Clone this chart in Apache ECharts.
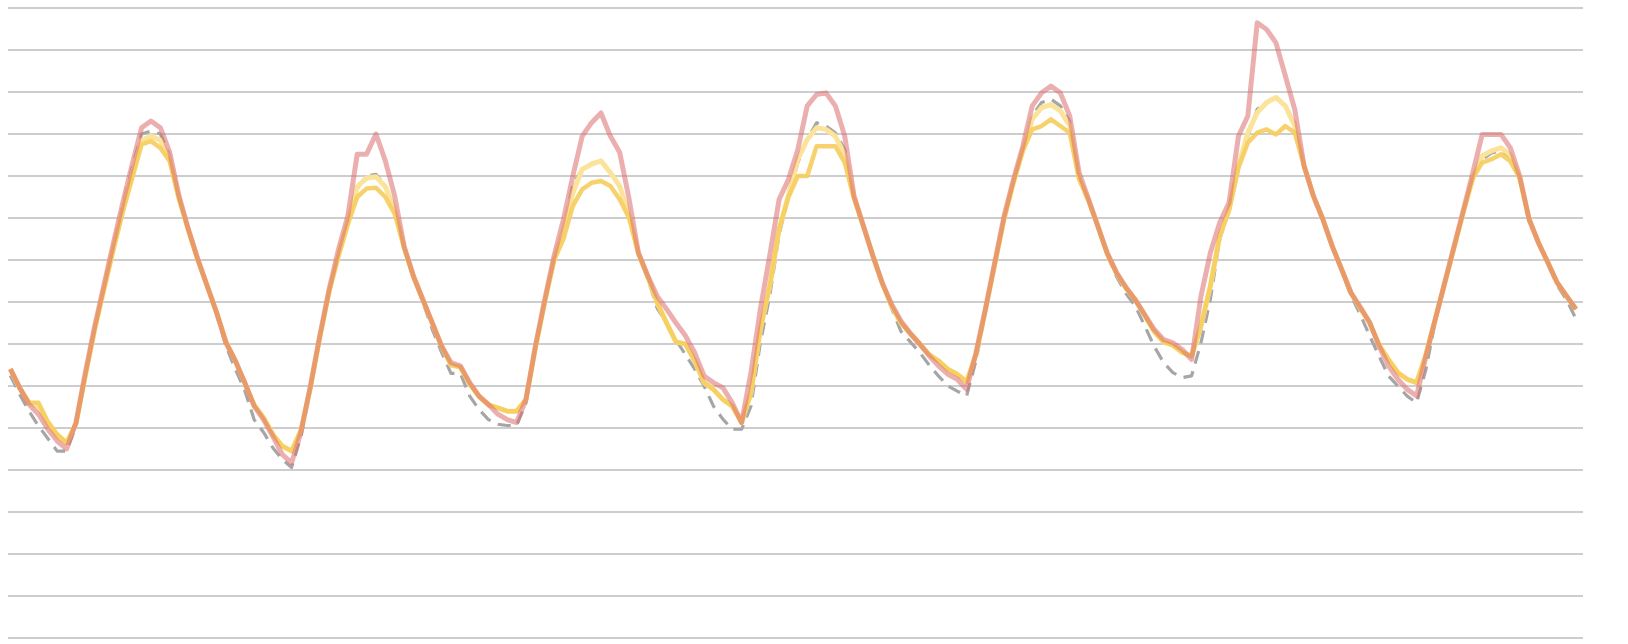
<!DOCTYPE html>
<html>
<head>
<meta charset="utf-8">
<title>Hourly series, 7 days</title>
<script src="https://cdn.jsdelivr.net/npm/echarts@6/dist/echarts.min.js"></script>
<style>
  html, body { margin: 0; padding: 0; background: #ffffff; }
  #chart { width: 1628px; height: 644px; }
</style>
</head>
<body>
<div id="chart"></div>
<script>
// hourly values, 7 days x 24 h
const grayDashed = [
  6.25, 5.8, 5.4, 5.05, 4.75, 4.45, 4.45, 5.05, 6.25, 7.4, 8.4, 9.35, 10.3, 11.2, 12.0, 12.07, 12.0, 11.48, 10.5, 9.7, 9.0, 8.35, 7.7, 6.95,
  6.4, 5.9, 5.2, 4.9, 4.53, 4.25, 4.06, 4.8, 5.9, 7.1, 8.25, 9.1, 9.9, 10.7, 11.0, 11.04, 10.76, 10.2, 9.3, 8.6, 8.0, 7.35, 6.8, 6.3,
  6.3, 5.76, 5.44, 5.2, 5.09, 5.06, 5.06, 5.6, 6.9, 8.0, 9.05, 9.75, 10.8, 11.16, 11.3, 11.36, 11.1, 10.76, 10.05, 9.15, 8.55, 7.85, 7.5, 7.1,
  6.75, 6.4, 6.0, 5.52, 5.21, 4.97, 4.97, 5.52, 7.03, 8.14, 9.6, 10.5, 11.32, 11.87, 12.27, 12.19, 12.03, 11.63, 10.5, 9.8, 9.1, 8.45, 7.85, 7.3,
  7.05, 6.8, 6.5, 6.24, 6.0, 5.88, 5.76, 6.6, 7.75, 8.9, 10.0, 10.85, 11.65, 12.43, 12.75, 12.83, 12.67, 12.3, 11.0, 10.4, 9.78, 9.12, 8.6, 8.2,
  7.9, 7.43, 6.95, 6.56, 6.32, 6.2, 6.24, 7.03, 8.06, 9.5, 10.15, 11.2, 11.95, 12.59, 12.75, 12.87, 12.67, 12.27, 11.24, 10.5, 9.95, 9.3, 8.75, 8.15,
  7.7, 7.19, 6.71, 6.24, 6.0, 5.76, 5.6, 6.4, 7.55, 8.42, 9.3, 10.15, 10.95, 11.4, 11.55, 11.6, 11.45, 10.95, 9.95, 9.4, 8.9, 8.4, 8.05, 7.6
];
const lightYellow = [
  6.4, 5.95, 5.6, 5.5, 5.1, 4.8, 4.65, 5.1, 6.25, 7.35, 8.35, 9.3, 10.2, 11.05, 11.85, 11.95, 11.85, 11.4, 10.45, 9.7, 9.0, 8.38, 7.75, 7.05,
  6.6, 6.08, 5.55, 5.25, 4.85, 4.57, 4.45, 4.95, 5.95, 7.15, 8.25, 9.1, 9.9, 10.75, 10.95, 10.98, 10.75, 10.2, 9.3, 8.6, 8.05, 7.5, 6.95, 6.5,
  6.45, 6.05, 5.75, 5.55, 5.48, 5.4, 5.4, 5.68, 6.9, 8.0, 9.0, 9.73, 10.6, 11.16, 11.28, 11.36, 11.08, 10.76, 10.05, 9.15, 8.6, 7.98, 7.5, 7.05,
  7.0, 6.6, 6.08, 5.92, 5.68, 5.52, 5.13, 5.84, 7.35, 8.38, 9.73, 10.55, 11.4, 11.87, 12.15, 12.11, 11.95, 11.5, 10.5, 9.8, 9.1, 8.45, 7.9, 7.5,
  7.25, 7.0, 6.75, 6.6, 6.4, 6.28, 6.1, 6.75, 7.8, 8.9, 9.98, 10.85, 11.62, 12.35, 12.63, 12.7, 12.55, 12.2, 10.95, 10.42, 9.8, 9.15, 8.68, 8.33,
  8.05, 7.68, 7.3, 7.05, 6.97, 6.8, 6.71, 7.43, 8.38, 9.57, 10.2, 11.24, 12.03, 12.51, 12.75, 12.87, 12.67, 12.19, 11.24, 10.52, 9.97, 9.33, 8.78, 8.22,
  7.85, 7.5, 6.98, 6.63, 6.32, 6.16, 6.08, 6.75, 7.6, 8.45, 9.3, 10.15, 10.95, 11.48, 11.6, 11.67, 11.5, 10.95, 9.97, 9.41, 8.94, 8.46, 8.14, 7.83
];
const goldYellow = [
  6.4, 5.95, 5.6, 5.6, 5.15, 4.85, 4.65, 5.1, 6.25, 7.35, 8.3, 9.25, 10.15, 10.95, 11.75, 11.83, 11.67, 11.35, 10.45, 9.7, 9.0, 8.38, 7.75, 7.05,
  6.6, 6.08, 5.55, 5.25, 4.85, 4.57, 4.45, 4.95, 5.95, 7.15, 8.25, 9.1, 9.85, 10.5, 10.7, 10.72, 10.5, 10.1, 9.3, 8.6, 8.05, 7.5, 6.95, 6.5,
  6.45, 6.05, 5.75, 5.55, 5.48, 5.4, 5.4, 5.68, 6.9, 8.0, 9.0, 9.5, 10.29, 10.68, 10.84, 10.88, 10.76, 10.44, 10.0, 9.15, 8.6, 7.98, 7.5, 7.05,
  7.0, 6.6, 6.08, 5.92, 5.68, 5.52, 5.13, 5.84, 7.35, 8.38, 9.73, 10.5, 11.0, 11.0, 11.71, 11.71, 11.71, 11.32, 10.45, 9.8, 9.1, 8.45, 7.9, 7.5,
  7.25, 7.0, 6.75, 6.6, 6.4, 6.28, 6.1, 6.75, 7.8, 8.9, 9.98, 10.85, 11.6, 12.11, 12.19, 12.35, 12.19, 12.03, 10.92, 10.42, 9.8, 9.15, 8.68, 8.33,
  8.05, 7.68, 7.3, 7.05, 6.97, 6.8, 6.71, 7.43, 8.38, 9.57, 10.2, 11.2, 11.79, 12.03, 12.11, 11.99, 12.19, 12.03, 11.24, 10.52, 9.97, 9.33, 8.78, 8.22,
  7.85, 7.5, 6.98, 6.63, 6.32, 6.16, 6.08, 6.75, 7.6, 8.45, 9.3, 10.15, 10.95, 11.32, 11.4, 11.52, 11.35, 10.95, 9.97, 9.41, 8.94, 8.46, 8.14, 7.83
];
const pinkLine = [
  6.41, 5.96, 5.56, 5.33, 4.97, 4.69, 4.5, 5.13, 6.32, 7.43, 8.42, 9.41, 10.37, 11.28, 12.15, 12.31, 12.15, 11.56, 10.52, 9.73, 9.02, 8.38, 7.75, 7.03,
  6.6, 6.08, 5.52, 5.2, 4.8, 4.37, 4.17, 4.9, 6.0, 7.19, 8.3, 9.25, 10.05, 11.52, 11.52, 12.0, 11.36, 10.52, 9.33, 8.62, 8.06, 7.51, 6.95, 6.56,
  6.48, 6.08, 5.76, 5.56, 5.33, 5.2, 5.13, 5.68, 6.95, 8.06, 9.1, 9.97, 11.0, 11.95, 12.27, 12.5, 11.95, 11.56, 10.45, 9.17, 8.62, 8.14, 7.83, 7.5,
  7.2, 6.79, 6.24, 6.08, 5.96, 5.6, 5.13, 6.32, 7.83, 9.1, 10.44, 10.92, 11.63, 12.67, 12.94, 12.98, 12.67, 11.95, 10.52, 9.81, 9.1, 8.46, 7.95, 7.55,
  7.25, 7.0, 6.72, 6.48, 6.28, 6.16, 5.92, 6.79, 7.83, 8.94, 10.05, 10.92, 11.71, 12.67, 12.98, 13.14, 12.98, 12.43, 11.08, 10.45, 9.81, 9.17, 8.7, 8.35,
  8.05, 7.7, 7.35, 7.11, 7.03, 6.87, 6.63, 8.14, 9.17, 9.89, 10.37, 11.95, 12.43, 14.65, 14.49, 14.17, 13.38, 12.59, 11.24, 10.52, 9.97, 9.33, 8.78, 8.22,
  7.88, 7.51, 6.95, 6.48, 6.16, 5.92, 5.76, 6.71, 7.59, 8.46, 9.33, 10.2, 11.08, 11.99, 11.99, 11.99, 11.67, 11.0, 9.97, 9.41, 8.94, 8.46, 8.14, 7.83
];

const toXY = arr => arr.map((v, i) => [i, v]);

const chart = echarts.init(document.getElementById('chart'), null, { renderer: 'canvas' });

const option = {
  animation: false,
  backgroundColor: '#ffffff',
  grid: { left: 8, right: 45, top: 8, bottom: 6, containLabel: false },
  xAxis: {
    type: 'value',
    min: -0.25,
    max: 167.75,
    show: false,
    splitLine: { show: false }
  },
  yAxis: {
    type: 'value',
    min: 0,
    max: 15,
    interval: 1,
    axisLine: { show: false },
    axisTick: { show: false },
    axisLabel: { show: false },
    splitLine: { show: true, lineStyle: { color: '#bdbdbd', width: 1.5 } }
  },
  series: [
    {
      name: 'gray',
      type: 'line',
      data: toXY(grayDashed),
      showSymbol: false,
      lineStyle: { color: '#a6a6a6', width: 3.2, type: [13, 8], cap: 'butt', join: 'round' },
      z: 2
    },
    {
      name: 'light',
      type: 'line',
      data: toXY(lightYellow),
      showSymbol: false,
      lineStyle: { color: '#fbe39a', width: 5, join: 'round' },
      z: 3
    },
    {
      name: 'gold',
      type: 'line',
      data: toXY(goldYellow),
      showSymbol: false,
      lineStyle: { color: '#f6cd5c', width: 4.5, opacity: 0.9, join: 'round' },
      z: 4
    },
    {
      name: 'pink',
      type: 'line',
      data: toXY(pinkLine),
      showSymbol: false,
      lineStyle: { color: '#dc6e70', width: 5, opacity: 0.55, join: 'round' },
      z: 5
    }
  ]
};

chart.setOption(option);
</script>
</body>
</html>
